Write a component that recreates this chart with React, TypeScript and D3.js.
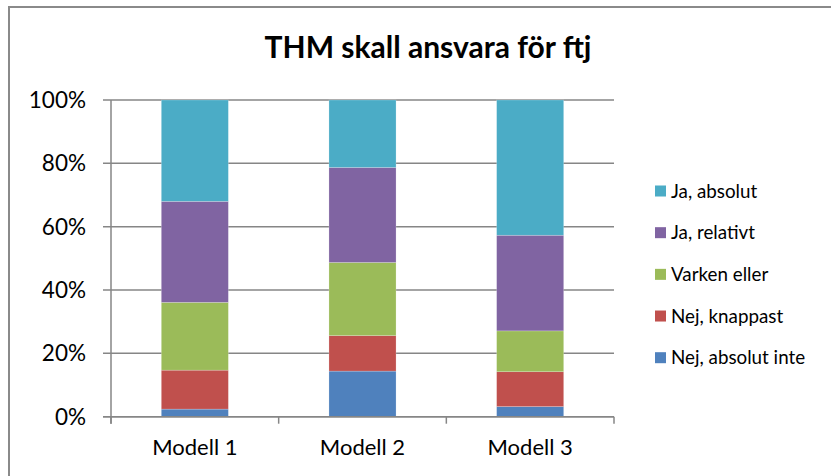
import React from "react";
import * as d3 from "d3";

const categories = ["Modell 1", "Modell 2", "Modell 3"];
const seriesNames = ["Nej, absolut inte", "Nej, knappast", "Varken eller", "Ja, relativt", "Ja, absolut"];
const nejAbsolutInte = [2.4, 14.4, 3.2];
const nejKnappast = [12.3, 11.2, 11.0];
const varkenEller = [21.4, 23.1, 12.9];
const jaRelativt = [31.9, 30.0, 30.2];
const jaAbsolut = [32.0, 21.3, 42.7];
const seriesColors = ["#4F81BD", "#C0504D", "#9BBB59", "#8064A2", "#4BACC6"];
const yTicks = [0, 20, 40, 60, 80, 100];
const title = "THM skall ansvara för ftj";

const W = 831;
const H = 476;
const plot = { left: 111, right: 614, top: 100, bottom: 416.7 };
const FONT = "Lato, 'Open Sans', sans-serif";

export default function App() {
  const seriesValues = [nejAbsolutInte, nejKnappast, varkenEller, jaRelativt, jaAbsolut];
  const rows = categories.map((c, i) => {
    const r: any = { cat: c };
    seriesNames.forEach((s, j) => (r[s] = seriesValues[j][i]));
    return r;
  });
  const stacked = d3.stack<any>().keys(seriesNames).offset(d3.stackOffsetExpand)(rows);

  const x = d3.scaleBand<string>().domain(categories).range([plot.left, plot.right]).paddingInner(0.6).paddingOuter(0.3);
  const xOuter = d3.scaleBand<string>().domain(categories).range([plot.left, plot.right]);
  const y = d3.scaleLinear().domain([0, 100]).range([plot.bottom, plot.top]);

  const legendItems = seriesNames.map((s, i) => ({ name: s, color: seriesColors[i] })).reverse();
  const legendY = d3.scaleLinear().domain([0, 4]).range([191, 357.7]);

  const grid = "#868686";
  const catBoundaries = [...categories.map((c) => xOuter(c) as number), plot.right];

  return (
    <svg width={W} height={H} style={{ position: "absolute", left: 0, top: 0, display: "block", background: "#fff" }}>
      <rect x={9} y={7} width={W + 20} height={H + 20} fill="#fff" stroke="#8a8a8a" strokeWidth={2} />
      <text x={428} y={57.5} textAnchor="middle" fontFamily={FONT} fontWeight={700} fontSize={30} fill="#000">
        {title}
      </text>
      {yTicks.map((t) => (
        <g key={t}>
          <line x1={plot.left - 8} x2={plot.right} y1={y(t)} y2={y(t)} stroke={grid} strokeWidth={1.5} />
          <text x={86} y={y(t)} dy="0.36em" textAnchor="end" fontFamily={FONT} fontSize={22.5} fill="#000">
            {t}%
          </text>
        </g>
      ))}
      {stacked.map((layer, j) => (
        <g key={layer.key} fill={seriesColors[j]}>
          {layer.map((d, i) => (
            <rect
              key={i}
              x={x(categories[i])}
              width={x.bandwidth()}
              y={y(d[1] * 100)}
              height={y(d[0] * 100) - y(d[1] * 100)}
              stroke="rgba(255,255,255,0.35)"
              strokeWidth={0.6}
            />
          ))}
        </g>
      ))}
      <line x1={plot.left} x2={plot.left} y1={plot.top} y2={plot.bottom + 7} stroke={grid} strokeWidth={1.5} />
      <line x1={plot.left - 8} x2={plot.right} y1={plot.bottom} y2={plot.bottom} stroke={grid} strokeWidth={1.5} />
      {catBoundaries.map((b, i) => (
        <line key={i} x1={b} x2={b} y1={plot.bottom} y2={plot.bottom + 7} stroke={grid} strokeWidth={1.5} />
      ))}
      {categories.map((c) => (
        <text
          key={c}
          x={(xOuter(c) as number) + xOuter.bandwidth() / 2}
          y={455}
          textAnchor="middle"
          fontFamily={FONT}
          fontSize={22}
          fill="#000"
        >
          {c}
        </text>
      ))}
      {legendItems.map((it, i) => (
        <g key={it.name}>
          <rect x={655} y={legendY(i) - 5.5} width={11} height={11} fill={it.color} />
          <text x={671} y={legendY(i)} dy="0.36em" fontFamily={FONT} fontSize={18.8} fill="#000">
            {it.name}
          </text>
        </g>
      ))}
    </svg>
  );
}
